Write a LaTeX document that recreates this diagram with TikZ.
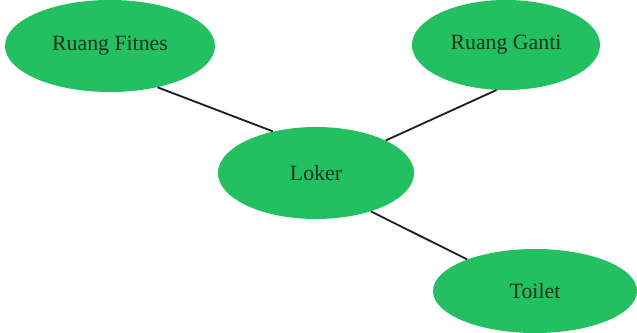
\documentclass[tikz,border=0pt]{standalone}
\usepackage{fontspec}
\setmainfont{Liberation Serif}
\usepackage{xcolor}
\usepackage{tikz}
\usetikzlibrary{positioning,shapes.geometric}

\definecolor{roomgreen}{RGB}{34,192,96}
\definecolor{roomtext}{RGB}{22,50,28}
\definecolor{linkgray}{RGB}{30,30,30}

\tikzset{
	room/.style={ellipse, fill=roomgreen, draw=none, inner sep=0pt,
		text=roomtext, font=\fontsize{15.5}{18}\selectfont},
	link/.style={draw=linkgray, line width=1.3pt}
}

\begin{document}
\begin{tikzpicture}[x=0.025cm, y=-0.025cm]
	\useasboundingbox (0,0) rectangle (637,333);
	\node[room, minimum width=5.25cm, minimum height=2.3cm] (fitnes) at (110,46) {Ruang Fitnes};
	\node[room, minimum width=4.7cm, minimum height=2.25cm] (ganti) at (506,45) {Ruang Ganti};
	\node[room, minimum width=4.9cm, minimum height=2.3cm] (loker) at (316,173) {Loker};
	\node[room, minimum width=5.1cm, minimum height=2.1cm] (toilet) at (535,291) {Toilet};
	\draw[link] (fitnes.-41) -- (loker.136);
	\draw[link] (ganti.-102) -- (loker.25);
	\draw[link] (loker.-35) -- (toilet.155);
\end{tikzpicture}
\end{document}
